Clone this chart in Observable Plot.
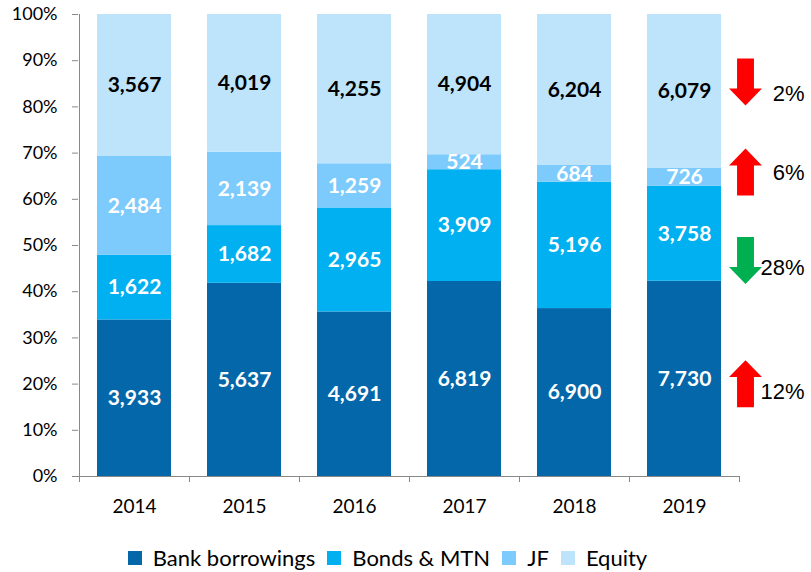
<!DOCTYPE html>
<html>
<head>
<meta charset="utf-8">
<script src="https://cdn.jsdelivr.net/npm/d3@7"></script>
<script src="https://cdn.jsdelivr.net/npm/@observablehq/plot@0.6"></script>
<style>
  body { margin: 0; background: #fff; font-family: Lato, "Noto Sans", sans-serif; }
  #legend { display: flex; justify-content: center; align-items: center; margin-top: 20px; font-size: 22px; line-height: 26px; color: #000; padding-right: 36px; }
  #legend .item { display: flex; align-items: center; margin: 0 6px; }
  #legend .sw { width: 14px; height: 14px; margin-right: 11px; }
</style>
</head>
<body>
<div id="chart"></div>
<script>
const years = ["2014", "2015", "2016", "2017", "2018", "2019"];
const series = ["Bank borrowings", "Bonds & MTN", "JF", "Equity"];
const bank = [3933, 5637, 4691, 6819, 6900, 7730];
const bonds = [1622, 1682, 2965, 3909, 5196, 3758];
const jf = [2484, 2139, 1259, 524, 684, 726];
const equity = [3567, 4019, 4255, 4904, 6204, 6079];
const colors = ["#0467AA", "#00B0F0", "#7DCBFC", "#BEE4FB"];

const changeLabels = ["2%", "6%", "28%", "12%"];
const changeDirs = ["down", "up", "down", "up"];
const changeArrowY = [0.854, 0.659, 0.4675, 0.201];
const changeTextY = [0.827, 0.658, 0.452, 0.184];
const changeColors = ["#FF0000", "#FF0000", "#00B050", "#FF0000"];

const valuesBySeries = [bank, bonds, jf, equity];
const data = [];
years.forEach((y, i) => series.forEach((s, j) => data.push({year: y, series: s, value: valuesBySeries[j][i]})));
const changes = changeLabels.map((t, i) => ({label: t, dir: changeDirs[i], ya: changeArrowY[i], yt: changeTextY[i], color: changeColors[i], year: years[years.length - 1]}));

const upArrow = {draw(ctx, size) {
  const r = Math.sqrt(size / Math.PI);
  ctx.moveTo(0, -r); ctx.lineTo(0.7 * r, -0.28 * r); ctx.lineTo(0.36 * r, -0.28 * r);
  ctx.lineTo(0.36 * r, r); ctx.lineTo(-0.36 * r, r); ctx.lineTo(-0.36 * r, -0.28 * r);
  ctx.lineTo(-0.7 * r, -0.28 * r); ctx.closePath();
}};
const downArrow = {draw(ctx, size) {
  const r = Math.sqrt(size / Math.PI);
  ctx.moveTo(0, r); ctx.lineTo(0.7 * r, 0.28 * r); ctx.lineTo(0.36 * r, 0.28 * r);
  ctx.lineTo(0.36 * r, -r); ctx.lineTo(-0.36 * r, -r); ctx.lineTo(-0.36 * r, 0.28 * r);
  ctx.lineTo(-0.7 * r, 0.28 * r); ctx.closePath();
}};

const fmt = d3.format(",");
const stackOpts = {x: "year", y: "value", z: "series", offset: "normalize", order: series};
const half = 55;

const chart = Plot.plot({
  width: 811,
  height: 525,
  marginTop: 14,
  marginBottom: 49,
  marginLeft: 78,
  marginRight: 72,
  style: {fontFamily: "Lato, 'Noto Sans', sans-serif", fontSize: "18px", color: "#000", background: "#fff"},
  x: {domain: years, paddingInner: 0.33, paddingOuter: 0.165, label: null},
  y: {domain: [0, 1], label: null},
  color: {domain: series, range: colors},
  marks: [
    Plot.barY(data, Plot.stackY({...stackOpts, fill: "series"})),
    Plot.text(data, Plot.stackY({...stackOpts, text: d => d.series === "Equity" ? null : fmt(d.value), fill: "white", fontWeight: "bold", fontSize: 21})),
    Plot.text(data, Plot.stackY({...stackOpts, text: d => d.series === "Equity" ? fmt(d.value) : null, fill: "black", fontWeight: "bold", fontSize: 21})),
    Plot.axisY({ticks: d3.range(0, 1.0001, 0.1), tickFormat: d3.format(".0%"), tickSize: 6, tickPadding: 15, stroke: "#888", fill: "#000", fontSize: 18, label: null}),
    Plot.ruleX([years[0]], {y1: 0, y2: 1, dx: -half, stroke: "#888"}),
    Plot.ruleY([0], {stroke: "#888"}),
    Plot.axisX({tickSize: 6, tickFormat: () => "", dx: -half, stroke: "#888", label: null}),
    Plot.axisX({ticks: [years[years.length - 1]], tickSize: 6, tickFormat: () => "", dx: half, stroke: "#888", label: null}),
    Plot.axisX({tickSize: 0, tickPadding: 23, fontSize: 19, fill: "#000", label: null}),
    Plot.dot(changes.filter(d => d.dir === "up"), {x: "year", y: "ya", dx: 61, r: 23.5, symbol: upArrow, fill: "color", stroke: "none"}),
    Plot.dot(changes.filter(d => d.dir === "down"), {x: "year", y: "ya", dx: 61, r: 23.5, symbol: downArrow, fill: "color", stroke: "none"}),
    Plot.text(changes, {x: "year", y: "yt", text: "label", dx: 120, textAnchor: "end", fill: "black", fontSize: 22, fontFamily: "'Liberation Sans', Arial, sans-serif"})
  ]
});
document.getElementById("chart").appendChild(chart);

const legend = document.createElement("div");
legend.id = "legend";
series.forEach((s, i) => {
  const item = document.createElement("div");
  item.className = "item";
  const sw = document.createElement("span");
  sw.className = "sw";
  sw.style.background = colors[i];
  const label = document.createElement("span");
  label.textContent = s;
  item.appendChild(sw); item.appendChild(label);
  legend.appendChild(item);
});
document.body.appendChild(legend);
</script>
</body>
</html>
